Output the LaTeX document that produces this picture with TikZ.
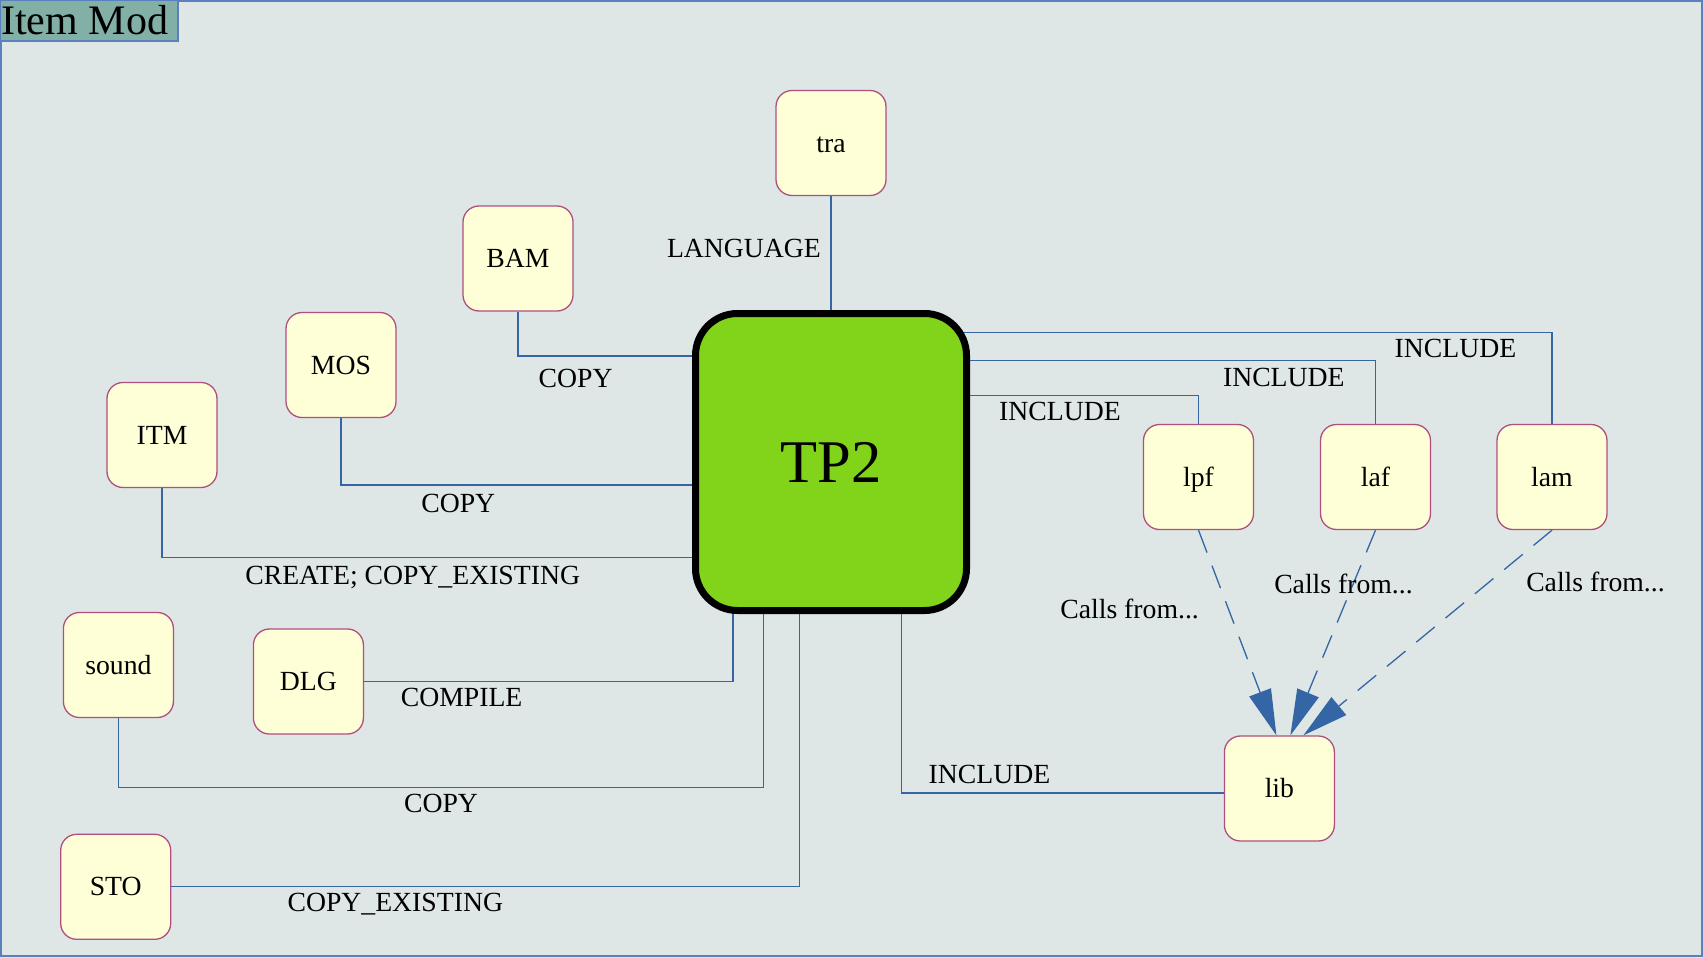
\documentclass[tikz,border=0pt]{standalone}
\usepackage{fontspec}
\setmainfont{Liberation Serif}
\usetikzlibrary{arrows.meta}
\definecolor{canvas}{HTML}{DFE6E6}
\definecolor{titlefill}{HTML}{82AFA6}
\definecolor{linkblue}{HTML}{3465A4}
\definecolor{framecol}{HTML}{5B80BE}
\definecolor{boxfill}{HTML}{FFFFD7}
\definecolor{boxline}{HTML}{B04F7E}
\definecolor{hubgreen}{HTML}{81D41A}
\pgfdeclarelayer{background}
\pgfsetlayers{background,main}
\begin{document}
\begin{tikzpicture}[x=1pt,y=-1pt,
  box/.style={draw=boxline,line width=1.3pt,fill=boxfill,rounded corners=16pt,
    minimum width=110pt,minimum height=105pt,inner sep=0pt,
    font=\fontsize{27.7}{33}\selectfont,text height=18.3pt,text depth=0pt},
  hub/.style={draw=black,line width=7pt,fill=hubgreen,rounded corners=42pt,
    minimum width=271pt,minimum height=297pt,inner sep=0pt,
    font=\fontsize{60.6}{70}\selectfont,text height=40pt,text depth=0pt},
  link/.style={draw=linkblue,line width=1.3pt},
  calls/.style={link,dash pattern=on 24pt off 14pt,-{Triangle[length=46pt,width=23pt]}},
  lbl/.style={inner sep=0pt,font=\fontsize{27.7}{33}\selectfont,text height=18.3pt,text depth=0pt}]
\useasboundingbox (0,0) rectangle (1703,958);

\draw[framecol,fill=titlefill,line width=1.3pt] (0,0) rectangle (178,41);
\node[anchor=base west,inner sep=0pt,font=\fontsize{42}{50}\selectfont] (title) at (1,35) {Item Mod};

\node[hub] (TP2) at (831,462) {TP2};
\node[box] (tra) at (831,143) {tra};
\node[box] (BAM) at (518,258.5) {BAM};
\node[box] (MOS) at (341,365) {MOS};
\node[box] (ITM) at (162,435) {ITM};
\node[box] (sound) at (118.4,665) {sound};
\node[box] (DLG) at (308.4,681.5) {DLG};
\node[box] (STO) at (115.7,886.8) {STO};
\node[box] (lpf) at (1198.5,477) {lpf};
\node[box] (laf) at (1375.5,477) {laf};
\node[box] (lam) at (1552,477) {lam};
\node[box] (lib) at (1279.4,788.5) {lib};

\coordinate (jBAM) at (0,356);
\coordinate (jMOS) at (0,485);
\coordinate (jITM) at (0,557.5);
\coordinate (jDLG) at (733,0);
\coordinate (jSnd) at (763.5,787.4);
\coordinate (jSTO) at (799.4,0);
\coordinate (jLib) at (901.5,793);
\coordinate (jLpf) at (0,395.3);
\coordinate (jLaf) at (0,360.6);
\coordinate (jLam) at (0,332.3);

\begin{pgfonlayer}{background}
\fill[canvas] (0,0) rectangle (1703,958);
\draw[framecol,line width=1.3pt] (1,1) rectangle (1702,956);
\draw[link] (tra) -- (tra |- TP2.center);
\draw[link] (BAM) |- (TP2.center |- jBAM);
\draw[link] (MOS) |- (TP2.center |- jMOS);
\draw[link] (ITM) |- (TP2.center |- jITM);
\draw[link] (DLG) -| (jDLG |- TP2.center);
\draw[link] (sound) |- (jSnd) -- (jSnd |- TP2.center);
\draw[link] (STO) -| (jSTO |- TP2.center);
\draw[link] (lib.west |- jLib) -- (jLib) -- (jLib |- TP2.center);
\draw[link] (TP2.center |- jLpf) -| (lpf);
\draw[link] (TP2.center |- jLaf) -| (laf);
\draw[link] (TP2.center |- jLam) -| (lam);
\end{pgfonlayer}

\draw[calls] (lpf.south) -- ([xshift=-3pt]lib.north);
\draw[calls] (laf.south) -- ([xshift=11pt]lib.north);
\draw[calls] (lam.south) -- ([xshift=24pt]lib.north);

\node[lbl] (lLang) at (744,248.7) {LANGUAGE};
\node[lbl] (lBAM) at (575.6,378) {COPY};
\node[lbl] (lMOS) at (458.3,502.9) {COPY};
\node[lbl] (lITM) at (412.7,575.6) {CREATE; COPY\_EXISTING};
\node[lbl] (lDLG) at (461.6,697.3) {COMPILE};
\node[lbl] (lSnd) at (441,803.7) {COPY};
\node[lbl] (lSTO) at (395.3,902.6) {COPY\_EXISTING};
\node[lbl] (lLib) at (989.4,774.4) {INCLUDE};
\node[lbl] (lLpf) at (1060,411.6) {INCLUDE};
\node[lbl] (lLaf) at (1283.8,376.9) {INCLUDE};
\node[lbl] (lLam) at (1455.4,348.6) {INCLUDE};
\node[lbl] (cLpf) at (1129.6,609.3) {Calls from...};
\node[lbl] (cLaf) at (1343.5,584.3) {Calls from...};
\node[lbl] (cLam) at (1595.5,582.2) {Calls from...};
\end{tikzpicture}
\end{document}
